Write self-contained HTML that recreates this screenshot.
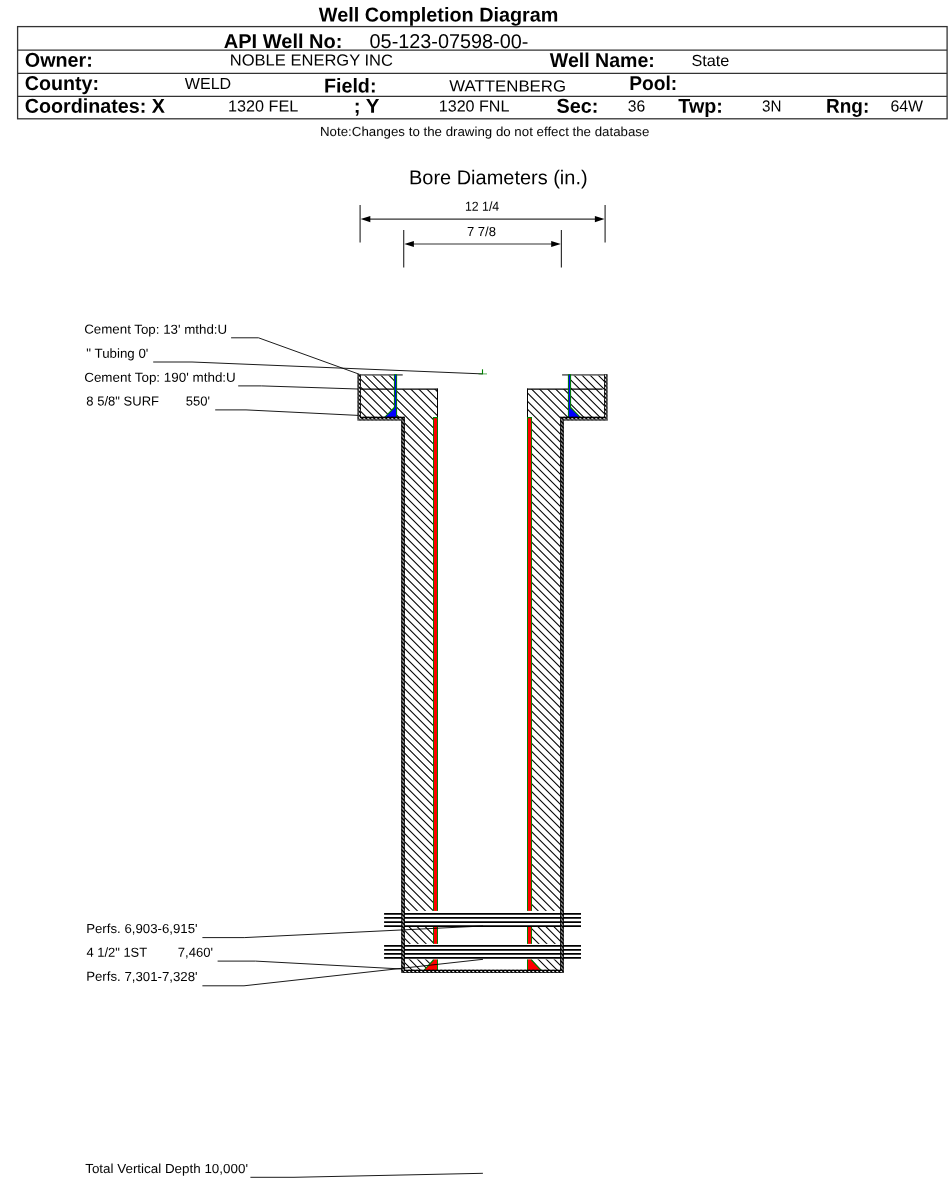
<!DOCTYPE html>
<html><head><meta charset="utf-8"><title>Well Completion Diagram</title>
<style>
html,body{margin:0;padding:0;background:#fff;}
body{width:948px;height:1178px;overflow:hidden;font-family:"Liberation Sans",Arial,sans-serif;}
svg{display:block;position:absolute;left:0;top:0;}
text{font-family:"Liberation Sans",Arial,sans-serif;fill:#000;text-rendering:geometricPrecision;}
.b{font-weight:bold;font-size:18px;}
.r{font-size:16px;}
.s{font-size:12px;}
</style></head><body>
<svg width="948" height="1178" viewBox="0 0 948 1178">


<g stroke="#333" stroke-width="1.3" fill="none">
<rect x="17.6" y="26.6" width="929.5" height="92.2"/>
<line x1="17.7" y1="50.1" x2="947.1" y2="50.1"/>
<line x1="17.7" y1="73.4" x2="947.1" y2="73.4"/>
<line x1="17.7" y1="96.3" x2="947.1" y2="96.3"/>
</g>
<g opacity="0.999">
<text id="t0" transform="rotate(0.03 438.4 21.5)" x="318.80" y="21.5" textLength="239.61" lengthAdjust="spacingAndGlyphs" style="font-size:20px;font-weight:bold">Well Completion Diagram</text>
<text id="t1" transform="rotate(0.03 282.9 48.1)" x="223.80" y="48.1" textLength="118.62" lengthAdjust="spacingAndGlyphs" style="font-size:20px;font-weight:bold">API Well No:</text>
<text id="t2" transform="rotate(0.03 58.3 66.8)" x="24.79" y="66.8" textLength="68.03" lengthAdjust="spacingAndGlyphs" style="font-size:20px;font-weight:bold">Owner:</text>
<text id="t3" transform="rotate(0.03 61.6 90.0)" x="24.79" y="90.0" textLength="74.22" lengthAdjust="spacingAndGlyphs" style="font-size:20px;font-weight:bold">County:</text>
<text id="t4" transform="rotate(0.03 95.2 112.8)" x="24.80" y="112.8" textLength="140.20" lengthAdjust="spacingAndGlyphs" style="font-size:20px;font-weight:bold">Coordinates: X</text>
<text id="t5" transform="rotate(0.03 349.7 92.5)" x="324.00" y="92.5" textLength="52.44" lengthAdjust="spacingAndGlyphs" style="font-size:20px;font-weight:bold">Field:</text>
<text id="t6" transform="rotate(0.03 367.1 112.8)" x="353.67" y="112.8" textLength="25.77" lengthAdjust="spacingAndGlyphs" style="font-size:20px;font-weight:bold">; Y</text>
<text id="t7" transform="rotate(0.03 601.8 67.1)" x="549.79" y="67.1" textLength="105.02" lengthAdjust="spacingAndGlyphs" style="font-size:20px;font-weight:bold">Well Name:</text>
<text id="t8" transform="rotate(0.03 652.7 89.9)" x="629.18" y="89.9" textLength="48.07" lengthAdjust="spacingAndGlyphs" style="font-size:20px;font-weight:bold">Pool:</text>
<text id="t9" transform="rotate(0.03 577.2 112.8)" x="556.59" y="112.8" textLength="41.86" lengthAdjust="spacingAndGlyphs" style="font-size:20px;font-weight:bold">Sec:</text>
<text id="t10" transform="rotate(0.03 700.1 112.8)" x="678.37" y="112.8" textLength="44.46" lengthAdjust="spacingAndGlyphs" style="font-size:20px;font-weight:bold">Twp:</text>
<text id="t11" transform="rotate(0.03 847.4 112.8)" x="826.00" y="112.8" textLength="43.22" lengthAdjust="spacingAndGlyphs" style="font-size:20px;font-weight:bold">Rng:</text>
<text id="t12" transform="rotate(0.03 449.0 48.1)" x="369.59" y="48.1" textLength="158.82" lengthAdjust="spacingAndGlyphs" style="font-size:20px;font-weight:normal">05-123-07598-00-</text>
<text id="t13" transform="rotate(0.03 311.4 65.6)" x="229.80" y="65.6" textLength="163.20" lengthAdjust="spacingAndGlyphs" style="font-size:16px;font-weight:normal">NOBLE ENERGY INC</text>
<text id="t14" transform="rotate(0.03 207.8 89.0)" x="184.79" y="89.0" textLength="46.43" lengthAdjust="spacingAndGlyphs" style="font-size:16px;font-weight:normal">WELD</text>
<text id="t15" transform="rotate(0.03 263.9 111.6)" x="227.99" y="111.6" textLength="70.21" lengthAdjust="spacingAndGlyphs" style="font-size:16px;font-weight:normal">1320 FEL</text>
<text id="t16" transform="rotate(0.03 710.6 66.0)" x="691.40" y="66.0" textLength="38.02" lengthAdjust="spacingAndGlyphs" style="font-size:16px;font-weight:normal">State</text>
<text id="t17" transform="rotate(0.03 507.2 91.4)" x="449.39" y="91.4" textLength="116.61" lengthAdjust="spacingAndGlyphs" style="font-size:16px;font-weight:normal">WATTENBERG</text>
<text id="t18" transform="rotate(0.03 474.6 111.6)" x="438.79" y="111.6" textLength="70.61" lengthAdjust="spacingAndGlyphs" style="font-size:16px;font-weight:normal">1320 FNL</text>
<text id="t19" transform="rotate(0.03 636.8 111.6)" x="627.77" y="111.6" textLength="17.43" lengthAdjust="spacingAndGlyphs" style="font-size:16px;font-weight:normal">36</text>
<text id="t20" transform="rotate(0.03 771.7 111.6)" x="762.00" y="111.6" textLength="19.43" lengthAdjust="spacingAndGlyphs" style="font-size:16px;font-weight:normal">3N</text>
<text id="t21" transform="rotate(0.03 907.0 111.6)" x="890.38" y="111.6" textLength="32.65" lengthAdjust="spacingAndGlyphs" style="font-size:16px;font-weight:normal">64W</text>
<text id="t22" transform="rotate(0.03 484.4 136.0)" x="320.00" y="136.0" textLength="329.40" lengthAdjust="spacingAndGlyphs" style="font-size:13px;font-weight:normal">Note:Changes to the drawing do not effect the database</text>
<text id="t23" transform="rotate(0.03 498.3 184.3)" x="408.99" y="184.3" textLength="178.61" lengthAdjust="spacingAndGlyphs" style="font-size:20px;font-weight:normal">Bore Diameters (in.)</text>
<text id="t24" transform="rotate(0.03 482.1 210.8)" x="465.00" y="210.8" textLength="34.21" lengthAdjust="spacingAndGlyphs" style="font-size:13px;font-weight:normal">12 1/4</text>
<text id="t25" transform="rotate(0.03 481.8 236.0)" x="466.97" y="236.0" textLength="29.03" lengthAdjust="spacingAndGlyphs" style="font-size:13px;font-weight:normal">7 7/8</text>
<text id="t26" transform="rotate(0.03 156.2 333.65)" x="84.20" y="333.65" textLength="143.01" lengthAdjust="spacingAndGlyphs" style="font-size:13px;font-weight:normal">Cement Top: 13' mthd:U</text>
<text id="t27" transform="rotate(0.03 117.2 357.65)" x="86.39" y="357.65" textLength="62.03" lengthAdjust="spacingAndGlyphs" style="font-size:13px;font-weight:normal">&quot; Tubing 0'</text>
<text id="t28" transform="rotate(0.03 160.0 381.7)" x="84.20" y="381.7" textLength="151.61" lengthAdjust="spacingAndGlyphs" style="font-size:13px;font-weight:normal">Cement Top: 190' mthd:U</text>
<text id="t29" transform="rotate(0.03 122.5 405.5)" x="86.39" y="405.5" textLength="72.61" lengthAdjust="spacingAndGlyphs" style="font-size:13px;font-weight:normal">8 5/8&quot; SURF</text>
<text id="t30" transform="rotate(0.03 198.4 405.5)" x="185.77" y="405.5" textLength="24.26" lengthAdjust="spacingAndGlyphs" style="font-size:13px;font-weight:normal">550'</text>
<text id="t31" transform="rotate(0.03 142.2 933.0)" x="86.19" y="933.0" textLength="111.41" lengthAdjust="spacingAndGlyphs" style="font-size:13px;font-weight:normal">Perfs. 6,903-6,915'</text>
<text id="t32" transform="rotate(0.03 116.5 956.8)" x="86.39" y="956.8" textLength="60.81" lengthAdjust="spacingAndGlyphs" style="font-size:13px;font-weight:normal">4 1/2&quot; 1ST</text>
<text id="t33" transform="rotate(0.03 195.9 956.8)" x="177.78" y="956.8" textLength="35.24" lengthAdjust="spacingAndGlyphs" style="font-size:13px;font-weight:normal">7,460'</text>
<text id="t34" transform="rotate(0.03 142.2 980.9)" x="86.19" y="980.9" textLength="111.41" lengthAdjust="spacingAndGlyphs" style="font-size:13px;font-weight:normal">Perfs. 7,301-7,328'</text>
<text id="t35" transform="rotate(0.03 166.3 1172.7)" x="85.20" y="1172.7" textLength="162.80" lengthAdjust="spacingAndGlyphs" style="font-size:13px;font-weight:normal">Total Vertical Depth 10,000'</text>
</g>
<g stroke="#333" stroke-width="1.2" fill="none">
<line x1="360.1" y1="205" x2="360.1" y2="242.5"/><line x1="605.1" y1="205" x2="605.1" y2="242.5"/>
<line x1="403.7" y1="230" x2="403.7" y2="267.5"/><line x1="561.4" y1="230" x2="561.4" y2="267.5"/>
<line x1="366" y1="219.1" x2="599" y2="219.1"/><line x1="410" y1="244" x2="555" y2="244"/>
</g>
<polygon points="360.7,219.1 370.3,216.0 370.3,222.2" fill="#000"/>
<polygon points="604.5,219.1 594.9,216.0 594.9,222.2" fill="#000"/>
<polygon points="404.3,244 413.90000000000003,240.9 413.90000000000003,247.1" fill="#000"/>
<polygon points="560.8,244 551.1999999999999,240.9 551.1999999999999,247.1" fill="#000"/>
<defs>
<clipPath id="cc"><path d="M360.8,374.2 H394 V417.2 H360.8 Z M571,374.2 H604.2 V417.2 H571 Z M397,389.15 H437.5 V970.0 H404.8 V417.2 H397 Z M568,389.15 H527.5 V970.0 H560.2 V417.2 H568 Z"/></clipPath>
<clipPath id="cw"><path d="M357.5,374.2 H360.8 V416.7 H404.8 V969.7 H560.2 V416.7 H604.2 V374.2 H607.5 V420.45 H563.7 V972.8 H401.3 V420.45 H357.5 Z"/></clipPath>
</defs>
<path clip-path="url(#cc)" d="M355.50,969.75L360.55,974.80M355.50,961.70L368.60,974.80M355.50,953.65L376.65,974.80M355.50,945.60L384.70,974.80M355.50,937.55L392.75,974.80M355.50,929.50L400.80,974.80M355.50,921.45L408.85,974.80M355.50,913.40L416.90,974.80M355.50,905.35L424.95,974.80M355.50,897.30L433.00,974.80M355.50,889.25L441.05,974.80M355.50,881.20L449.10,974.80M355.50,873.15L457.15,974.80M355.50,865.10L465.20,974.80M355.50,857.05L473.25,974.80M355.50,849.00L481.30,974.80M355.50,840.95L489.35,974.80M355.50,832.90L497.40,974.80M355.50,824.85L505.45,974.80M355.50,816.80L513.50,974.80M355.50,808.75L521.55,974.80M355.50,800.70L529.60,974.80M355.50,792.65L537.65,974.80M355.50,784.60L545.70,974.80M355.50,776.55L553.75,974.80M355.50,768.50L561.80,974.80M355.50,760.45L569.85,974.80M355.50,752.40L577.90,974.80M355.50,744.35L585.95,974.80M355.50,736.30L594.00,974.80M355.50,728.25L602.05,974.80M355.50,720.20L609.50,974.20M355.50,712.15L609.50,966.15M355.50,704.10L609.50,958.10M355.50,696.05L609.50,950.05M355.50,688.00L609.50,942.00M355.50,679.95L609.50,933.95M355.50,671.90L609.50,925.90M355.50,663.85L609.50,917.85M355.50,655.80L609.50,909.80M355.50,647.75L609.50,901.75M355.50,639.70L609.50,893.70M355.50,631.65L609.50,885.65M355.50,623.60L609.50,877.60M355.50,615.55L609.50,869.55M355.50,607.50L609.50,861.50M355.50,599.45L609.50,853.45M355.50,591.40L609.50,845.40M355.50,583.35L609.50,837.35M355.50,575.30L609.50,829.30M355.50,567.25L609.50,821.25M355.50,559.20L609.50,813.20M355.50,551.15L609.50,805.15M355.50,543.10L609.50,797.10M355.50,535.05L609.50,789.05M355.50,527.00L609.50,781.00M355.50,518.95L609.50,772.95M355.50,510.90L609.50,764.90M355.50,502.85L609.50,756.85M355.50,494.80L609.50,748.80M355.50,486.75L609.50,740.75M355.50,478.70L609.50,732.70M355.50,470.65L609.50,724.65M355.50,462.60L609.50,716.60M355.50,454.55L609.50,708.55M355.50,446.50L609.50,700.50M355.50,438.45L609.50,692.45M355.50,430.40L609.50,684.40M355.50,422.35L609.50,676.35M355.50,414.30L609.50,668.30M355.50,406.25L609.50,660.25M355.50,398.20L609.50,652.20M355.50,390.15L609.50,644.15M355.50,382.10L609.50,636.10M355.50,374.05L609.50,628.05M361.70,372.20L609.50,620.00M369.75,372.20L609.50,611.95M377.80,372.20L609.50,603.90M385.85,372.20L609.50,595.85M393.90,372.20L609.50,587.80M401.95,372.20L609.50,579.75M410.00,372.20L609.50,571.70M418.05,372.20L609.50,563.65M426.10,372.20L609.50,555.60M434.15,372.20L609.50,547.55M442.20,372.20L609.50,539.50M450.25,372.20L609.50,531.45M458.30,372.20L609.50,523.40M466.35,372.20L609.50,515.35M474.40,372.20L609.50,507.30M482.45,372.20L609.50,499.25M490.50,372.20L609.50,491.20M498.55,372.20L609.50,483.15M506.60,372.20L609.50,475.10M514.65,372.20L609.50,467.05M522.70,372.20L609.50,459.00M530.75,372.20L609.50,450.95M538.80,372.20L609.50,442.90M546.85,372.20L609.50,434.85M554.90,372.20L609.50,426.80M562.95,372.20L609.50,418.75M571.00,372.20L609.50,410.70M579.05,372.20L609.50,402.65M587.10,372.20L609.50,394.60M595.15,372.20L609.50,386.55M603.20,372.20L609.50,378.50" stroke="#000" stroke-width="1.05" fill="none"/>
<g stroke="#727272" stroke-width="1.8"><line x1="360.5" y1="374.9" x2="402.7" y2="374.9"/><line x1="562.1" y1="374.9" x2="604.7" y2="374.9"/></g>
<g stroke="#000" fill="none">
<path d="M360.8,389.15 H438" stroke-width="1.15"/><path d="M437.5,388.65 V417.4" stroke-width="1"/>
<path d="M602.6,389.15 H527" stroke-width="1.15"/><path d="M527.5,388.65 V417.4" stroke-width="1"/>
</g>
<g fill="#008000" stroke="none">
<path d="M393.9,374.2 H397.1 V417 H384.3 L393.9,407.0 Z"/>
<path d="M571.1,374.2 H567.9 V417 H580.7 L571.1,407.0 Z"/>
</g>
<g fill="#0000ff" stroke="none">
<path d="M394.95,374.8 H396.1 V417 H385.6 L394.95,408 Z"/>
<path d="M570.05,374.8 H568.9 V417 H579.4 L570.05,408 Z"/>
</g>
<g fill="#008000" stroke="none">
<path d="M433,417.1 H438 V970.0 H423.6 L433,959.5 Z"/>
<path d="M532,417.1 H527 V970.0 H541.4 L532,959.5 Z"/>
</g>
<g fill="#ff0000" stroke="none">
<path d="M433.95,418.2 H437 V970.0 H425 L433.95,960.4 Z"/>
<path d="M531.05,418.2 H528 V970.0 H540 L531.05,960.4 Z"/>
</g>
<rect x="384.1" y="910.9" width="196.89999999999998" height="16.0" fill="#fff"/>
<line x1="384.1" y1="913.9" x2="581" y2="913.9" stroke="#000" stroke-width="1.75"/>
<line x1="384.1" y1="917.95" x2="581" y2="917.95" stroke="#000" stroke-width="1.75"/>
<line x1="384.1" y1="922.0" x2="581" y2="922.0" stroke="#000" stroke-width="1.75"/>
<line x1="384.1" y1="926.0" x2="581" y2="926.0" stroke="#000" stroke-width="1.75"/>
<rect x="384.1" y="943.9" width="196.89999999999998" height="15.5" fill="#fff"/>
<line x1="384.1" y1="945.9" x2="581" y2="945.9" stroke="#000" stroke-width="1.75"/>
<line x1="384.1" y1="949.9" x2="581" y2="949.9" stroke="#000" stroke-width="1.75"/>
<line x1="384.1" y1="953.95" x2="581" y2="953.95" stroke="#000" stroke-width="1.75"/>
<line x1="384.1" y1="957.95" x2="581" y2="957.95" stroke="#000" stroke-width="1.75"/>
<path d="M357.5,374.2 H360.8 V416.7 H404.8 V969.7 H560.2 V416.7 H604.2 V374.2 H607.5 V420.45 H563.7 V972.8 H401.3 V420.45 H357.5 Z" fill="#000" stroke="none"/>
<path d="M359.4,373.2 V418.72499999999997 H403.05 V971.55 H561.95 V418.72499999999997 H605.6 V373.2" fill="none" stroke="#fff" stroke-width="1.05" stroke-linejoin="miter"/>
<path clip-path="url(#cw)" d="M355.50,971.80L358.50,974.80M355.50,967.80L362.50,974.80M355.50,963.80L366.50,974.80M355.50,959.80L370.50,974.80M355.50,955.80L374.50,974.80M355.50,951.80L378.50,974.80M355.50,947.80L382.50,974.80M355.50,943.80L386.50,974.80M355.50,939.80L390.50,974.80M355.50,935.80L394.50,974.80M355.50,931.80L398.50,974.80M355.50,927.80L402.50,974.80M355.50,923.80L406.50,974.80M355.50,919.80L410.50,974.80M355.50,915.80L414.50,974.80M355.50,911.80L418.50,974.80M355.50,907.80L422.50,974.80M355.50,903.80L426.50,974.80M355.50,899.80L430.50,974.80M355.50,895.80L434.50,974.80M355.50,891.80L438.50,974.80M355.50,887.80L442.50,974.80M355.50,883.80L446.50,974.80M355.50,879.80L450.50,974.80M355.50,875.80L454.50,974.80M355.50,871.80L458.50,974.80M355.50,867.80L462.50,974.80M355.50,863.80L466.50,974.80M355.50,859.80L470.50,974.80M355.50,855.80L474.50,974.80M355.50,851.80L478.50,974.80M355.50,847.80L482.50,974.80M355.50,843.80L486.50,974.80M355.50,839.80L490.50,974.80M355.50,835.80L494.50,974.80M355.50,831.80L498.50,974.80M355.50,827.80L502.50,974.80M355.50,823.80L506.50,974.80M355.50,819.80L510.50,974.80M355.50,815.80L514.50,974.80M355.50,811.80L518.50,974.80M355.50,807.80L522.50,974.80M355.50,803.80L526.50,974.80M355.50,799.80L530.50,974.80M355.50,795.80L534.50,974.80M355.50,791.80L538.50,974.80M355.50,787.80L542.50,974.80M355.50,783.80L546.50,974.80M355.50,779.80L550.50,974.80M355.50,775.80L554.50,974.80M355.50,771.80L558.50,974.80M355.50,767.80L562.50,974.80M355.50,763.80L566.50,974.80M355.50,759.80L570.50,974.80M355.50,755.80L574.50,974.80M355.50,751.80L578.50,974.80M355.50,747.80L582.50,974.80M355.50,743.80L586.50,974.80M355.50,739.80L590.50,974.80M355.50,735.80L594.50,974.80M355.50,731.80L598.50,974.80M355.50,727.80L602.50,974.80M355.50,723.80L606.50,974.80M355.50,719.80L609.50,973.80M355.50,715.80L609.50,969.80M355.50,711.80L609.50,965.80M355.50,707.80L609.50,961.80M355.50,703.80L609.50,957.80M355.50,699.80L609.50,953.80M355.50,695.80L609.50,949.80M355.50,691.80L609.50,945.80M355.50,687.80L609.50,941.80M355.50,683.80L609.50,937.80M355.50,679.80L609.50,933.80M355.50,675.80L609.50,929.80M355.50,671.80L609.50,925.80M355.50,667.80L609.50,921.80M355.50,663.80L609.50,917.80M355.50,659.80L609.50,913.80M355.50,655.80L609.50,909.80M355.50,651.80L609.50,905.80M355.50,647.80L609.50,901.80M355.50,643.80L609.50,897.80M355.50,639.80L609.50,893.80M355.50,635.80L609.50,889.80M355.50,631.80L609.50,885.80M355.50,627.80L609.50,881.80M355.50,623.80L609.50,877.80M355.50,619.80L609.50,873.80M355.50,615.80L609.50,869.80M355.50,611.80L609.50,865.80M355.50,607.80L609.50,861.80M355.50,603.80L609.50,857.80M355.50,599.80L609.50,853.80M355.50,595.80L609.50,849.80M355.50,591.80L609.50,845.80M355.50,587.80L609.50,841.80M355.50,583.80L609.50,837.80M355.50,579.80L609.50,833.80M355.50,575.80L609.50,829.80M355.50,571.80L609.50,825.80M355.50,567.80L609.50,821.80M355.50,563.80L609.50,817.80M355.50,559.80L609.50,813.80M355.50,555.80L609.50,809.80M355.50,551.80L609.50,805.80M355.50,547.80L609.50,801.80M355.50,543.80L609.50,797.80M355.50,539.80L609.50,793.80M355.50,535.80L609.50,789.80M355.50,531.80L609.50,785.80M355.50,527.80L609.50,781.80M355.50,523.80L609.50,777.80M355.50,519.80L609.50,773.80M355.50,515.80L609.50,769.80M355.50,511.80L609.50,765.80M355.50,507.80L609.50,761.80M355.50,503.80L609.50,757.80M355.50,499.80L609.50,753.80M355.50,495.80L609.50,749.80M355.50,491.80L609.50,745.80M355.50,487.80L609.50,741.80M355.50,483.80L609.50,737.80M355.50,479.80L609.50,733.80M355.50,475.80L609.50,729.80M355.50,471.80L609.50,725.80M355.50,467.80L609.50,721.80M355.50,463.80L609.50,717.80M355.50,459.80L609.50,713.80M355.50,455.80L609.50,709.80M355.50,451.80L609.50,705.80M355.50,447.80L609.50,701.80M355.50,443.80L609.50,697.80M355.50,439.80L609.50,693.80M355.50,435.80L609.50,689.80M355.50,431.80L609.50,685.80M355.50,427.80L609.50,681.80M355.50,423.80L609.50,677.80M355.50,419.80L609.50,673.80M355.50,415.80L609.50,669.80M355.50,411.80L609.50,665.80M355.50,407.80L609.50,661.80M355.50,403.80L609.50,657.80M355.50,399.80L609.50,653.80M355.50,395.80L609.50,649.80M355.50,391.80L609.50,645.80M355.50,387.80L609.50,641.80M355.50,383.80L609.50,637.80M355.50,379.80L609.50,633.80M355.50,375.80L609.50,629.80M355.90,372.20L609.50,625.80M359.90,372.20L609.50,621.80M363.90,372.20L609.50,617.80M367.90,372.20L609.50,613.80M371.90,372.20L609.50,609.80M375.90,372.20L609.50,605.80M379.90,372.20L609.50,601.80M383.90,372.20L609.50,597.80M387.90,372.20L609.50,593.80M391.90,372.20L609.50,589.80M395.90,372.20L609.50,585.80M399.90,372.20L609.50,581.80M403.90,372.20L609.50,577.80M407.90,372.20L609.50,573.80M411.90,372.20L609.50,569.80M415.90,372.20L609.50,565.80M419.90,372.20L609.50,561.80M423.90,372.20L609.50,557.80M427.90,372.20L609.50,553.80M431.90,372.20L609.50,549.80M435.90,372.20L609.50,545.80M439.90,372.20L609.50,541.80M443.90,372.20L609.50,537.80M447.90,372.20L609.50,533.80M451.90,372.20L609.50,529.80M455.90,372.20L609.50,525.80M459.90,372.20L609.50,521.80M463.90,372.20L609.50,517.80M467.90,372.20L609.50,513.80M471.90,372.20L609.50,509.80M475.90,372.20L609.50,505.80M479.90,372.20L609.50,501.80M483.90,372.20L609.50,497.80M487.90,372.20L609.50,493.80M491.90,372.20L609.50,489.80M495.90,372.20L609.50,485.80M499.90,372.20L609.50,481.80M503.90,372.20L609.50,477.80M507.90,372.20L609.50,473.80M511.90,372.20L609.50,469.80M515.90,372.20L609.50,465.80M519.90,372.20L609.50,461.80M523.90,372.20L609.50,457.80M527.90,372.20L609.50,453.80M531.90,372.20L609.50,449.80M535.90,372.20L609.50,445.80M539.90,372.20L609.50,441.80M543.90,372.20L609.50,437.80M547.90,372.20L609.50,433.80M551.90,372.20L609.50,429.80M555.90,372.20L609.50,425.80M559.90,372.20L609.50,421.80M563.90,372.20L609.50,417.80M567.90,372.20L609.50,413.80M571.90,372.20L609.50,409.80M575.90,372.20L609.50,405.80M579.90,372.20L609.50,401.80M583.90,372.20L609.50,397.80M587.90,372.20L609.50,393.80M591.90,372.20L609.50,389.80M595.90,372.20L609.50,385.80M599.90,372.20L609.50,381.80M603.90,372.20L609.50,377.80M607.90,372.20L609.50,373.80" stroke="#000" stroke-width="1.5" fill="none"/>
<path d="M357.9,374.2 V420.0 H401.5 M607.1,374.2 V420.0 H563.5" fill="none" stroke="#909090" stroke-width="0.9"/>
<g stroke="#000" stroke-width="0.9" fill="none">
<path d="M231.1,337.8 H258.5 L359.7,374.4"/>
<path d="M153.2,362 H192 L482.5,373.9"/>
<path d="M238.2,385.9 H261.5 L358,389"/>
<path d="M215.2,409.9 H246 L358,415.4"/>
<path d="M202.4,937.6 H244.2 L483,926"/>
<path d="M217.6,961.1 H255.6 L402,969"/>
<path d="M202.4,985.8 H244 L483,959.3"/>
<path d="M250.4,1177.3 H294 L482.9,1173.3"/>
</g>
<path d="M482.5,369.3 V374.2" stroke="#008000" stroke-width="1.1" fill="none"/><path d="M478.5,373.9 H487" stroke="#008000" stroke-opacity="0.6" stroke-width="1.1" fill="none"/>
</svg></body></html>
